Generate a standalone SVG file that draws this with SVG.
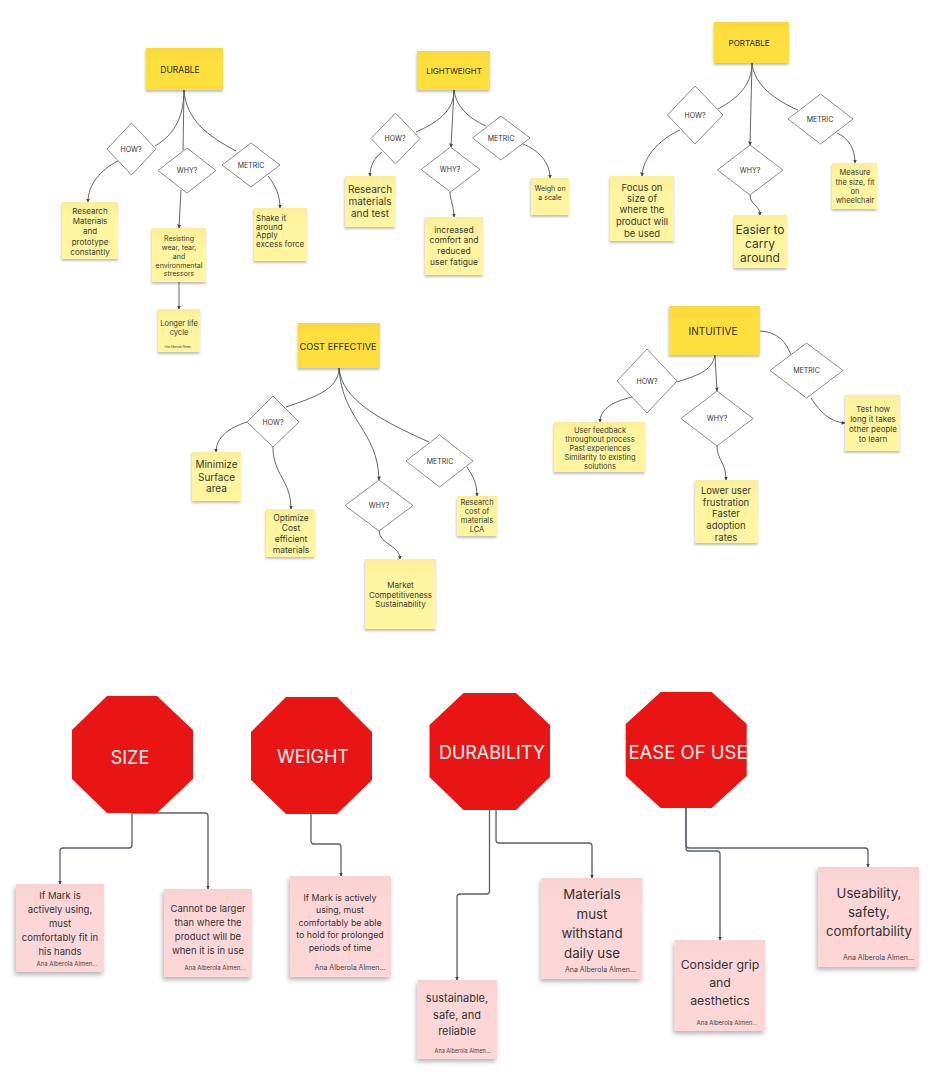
<svg xmlns="http://www.w3.org/2000/svg" width="936" height="1074" viewBox="0 0 936 1074">
<style>
text{font-family:Inter,"Noto Sans","Liberation Sans",sans-serif;fill:#3a3a32;text-anchor:middle;dominant-baseline:central}
.h{fill:url(#gh);filter:url(#sh)}
.y{fill:url(#gy);filter:url(#sh)}
.p{fill:url(#gp);filter:url(#sp)}
.d{fill:#fff;stroke:#6e6e6e;stroke-width:.8}
.o{fill:#e91515}
.ot{fill:#fdeeee;font-size:18px}
.a{fill:#444;font-size:7px}
.dt{fill:#333;font-size:7px}
.ht{fill:#2a2a20}
.pt{fill:#333}
.l{text-anchor:start}
#connectors path{fill:none;stroke:#555;stroke-width:.9;marker-end:url(#ar)}
#connectors path.n{marker-end:none}
#connectors path.e{stroke:#5a6068;stroke-width:1.3}
</style>
<defs>
<linearGradient id="gh" x1="0" y1="0" x2="0" y2="1"><stop offset="0" stop-color="#fbd83a"/><stop offset=".3" stop-color="#fedf3e"/></linearGradient>
<linearGradient id="gy" x1="0" y1="0" x2="0" y2="1"><stop offset="0" stop-color="#fbee9a"/><stop offset=".3" stop-color="#fff5a0"/></linearGradient>
<linearGradient id="gp" x1="0" y1="0" x2="0" y2="1"><stop offset="0" stop-color="#f9d2d2"/><stop offset=".3" stop-color="#fdd7d8"/></linearGradient>
<filter id="sh" x="-15%" y="-15%" width="130%" height="130%"><feDropShadow dx="-.5" dy="2" stdDeviation="1.3" flood-color="#000" flood-opacity=".25"/></filter>
<filter id="sp" x="-15%" y="-15%" width="130%" height="130%"><feDropShadow dx="-1.500" dy="3" stdDeviation="2" flood-color="#000" flood-opacity=".28"/></filter>
<marker id="ar" markerUnits="userSpaceOnUse" markerWidth="5" markerHeight="5" refX="3.5" refY="2" orient="auto"><path d="M0,0L4,2L0,4Z" fill="#444"/></marker>
</defs>
<g id="connectors">
<path class="n" d="M184,90C184,120 172,136 155,146"/>
<path class="n" d="M184,90L183,150"/>
<path class="n" d="M184,90C186,120 208,136 236,151"/>
<path d="M118,161C100,170 88,185 88,202"/>
<path d="M181,190L179,228"/>
<path d="M268,176C275,185 280,195 280,208"/>
<path d="M179,282V309"/>
<path class="n" d="M454,90C454,112 436,123 416,132"/>
<path d="M454,90L451,147"/>
<path class="n" d="M454,90C456,106 468,118 486,126"/>
<path d="M382,152C374,158 370,166 370,176"/>
<path d="M450,192C450,200 454,206 454,217"/>
<path d="M523,144C538,150 550,162 550,178"/>
<path class="n" d="M752,63C752,85 738,98 718,109"/>
<path d="M752,63L750,145"/>
<path class="n" d="M752,63C754,85 775,100 798,110"/>
<path d="M680,130C658,140 643,158 642,176"/>
<path d="M750,195C750,205 760,205 760,215"/>
<path d="M837,133C848,138 855,148 855,163"/>
<path class="n" d="M339,368C339,390 312,398 286,407"/>
<path d="M339,368C342,420 378,430 379,480"/>
<path class="n" d="M339,368C342,400 380,420 429,442"/>
<path d="M247,422C228,428 216,438 216,452"/>
<path d="M273,447C273,475 291,480 291,509"/>
<path d="M379,531C380,545 400,545 400,559"/>
<path d="M467,467C472,475 477,482 477,496"/>
<path class="n" d="M715,355C712,372 695,376 677,382"/>
<path d="M715,355L717,391"/>
<path class="n" d="M760,331C778,332 786,342 791,355"/>
<path d="M632,397C615,401 600,408 600,422"/>
<path d="M717,446C717,460 726,462 726,480"/>
<path d="M811,398C820,412 830,422 845,423"/>
<path class="e" d="M132,813V845Q132,848 129,848H63Q60,848 60,851V884"/>
<path class="e" d="M132,813H205Q208,813 208,816V889"/>
<path class="e" d="M311,814V841Q311,844 314,844H338Q341,844 341,847V876"/>
<path class="e" d="M489.500,810V891Q489.500,894 486.500,894H460Q457,894 457,897V980"/>
<path class="e" d="M496,810V840Q496,843 499,843H589Q592,843 592,846V878"/>
<path class="e" d="M686,808V845Q686,848 689,848H865Q868,848 868,851V867"/>
<path class="e" d="M686,808V848Q686,851 689,851H717Q720,851 720,854V940"/>
</g>
<g id="durable"><rect class="h" x="146" y="48" width="77" height="42"/><text class="ht" x="180" y="70" font-size="8.500">DURABLE</text></g>
<g id="durable-how"><path class="d" d="M107,149L131.500,123L156,149L131.500,175Z"/><text class="dt" x="131" y="149">HOW?</text></g>
<g id="durable-why"><path class="d" d="M158,170.500L187,148L216,170.500L187,193Z"/><text class="dt" x="187" y="170">WHY?</text></g>
<g id="durable-metric"><path class="d" d="M222,165L251,143L280,165L251,187Z"/><text class="dt" x="251" y="165">METRIC</text></g>
<g id="durable-s1"><rect class="y" x="62" y="202" width="56" height="57"/><text x="90" y="211" font-size="8">Research</text><text x="90" y="221" font-size="8">Materials</text><text x="90" y="231" font-size="8">and</text><text x="90" y="242" font-size="8">prototype</text><text x="90" y="252" font-size="8">constantly</text></g>
<g id="durable-s2"><rect class="y" x="152" y="228" width="54" height="54"/><text x="179" y="238" font-size="7">Resisting</text><text x="179" y="247" font-size="7">wear, tear,</text><text x="179" y="256" font-size="7">and</text><text x="179" y="265" font-size="7">environmental</text><text x="179" y="273" font-size="7">stressors</text></g>
<g id="durable-s3"><rect class="y" x="254" y="208" width="53" height="53"/><text class="l" x="256" y="218" font-size="8">Shake it</text><text class="l" x="256" y="227" font-size="8">around</text><text class="l" x="256" y="235" font-size="8">Apply</text><text class="l" x="256" y="244" font-size="8">excess force</text></g>
<g id="durable-s4"><rect class="y" x="158" y="309" width="42" height="43"/><text x="179" y="323" font-size="7.500">Longer life</text><text x="179" y="332" font-size="7.500">cycle</text><text x="179" y="347" font-size="2.800">Ana Alberola Almen...</text></g>

<g id="lightweight"><rect class="h" x="417" y="51" width="73" height="39"/><text class="ht" x="454" y="71" font-size="8">LIGHTWEIGHT</text></g>
<g id="lightweight-how"><path class="d" d="M371,138.500L395.500,113L420,138.500L395.500,164Z"/><text class="dt" x="395" y="138">HOW?</text></g>
<g id="lightweight-why"><path class="d" d="M421,169.500L450.500,147L480,169.500L450.500,192Z"/><text class="dt" x="450" y="169">WHY?</text></g>
<g id="lightweight-metric"><path class="d" d="M472.500,138L501,116L530,138L501,160Z"/><text class="dt" x="501" y="138">METRIC</text></g>
<g id="lightweight-s1"><rect class="y" x="345" y="176" width="50" height="51"/><text x="370" y="189" font-size="10">Research</text><text x="370" y="201" font-size="10">materials</text><text x="370" y="213" font-size="10">and test</text></g>
<g id="lightweight-s2"><rect class="y" x="425" y="217" width="58" height="58"/><text x="454" y="229.500" font-size="8.500">increased</text><text x="454" y="240" font-size="8.500">comfort and</text><text x="454" y="251" font-size="8.500">reduced</text><text x="454" y="262" font-size="8.500">user fatigue</text></g>
<g id="lightweight-s3"><rect class="y" x="531" y="178" width="38" height="37"/><text x="550" y="188" font-size="7">Weigh on</text><text x="550" y="197" font-size="7">a scale</text></g>

<g id="portable"><rect class="h" x="714" y="22" width="75" height="41"/><text class="ht" x="749" y="43" font-size="8">PORTABLE</text></g>
<g id="portable-how"><path class="d" d="M667.500,115L695,86L723,115L695,144Z"/><text class="dt" x="695" y="115">HOW?</text></g>
<g id="portable-why"><path class="d" d="M717.500,170L750,145L783,170L750,195Z"/><text class="dt" x="750" y="170">WHY?</text></g>
<g id="portable-metric"><path class="d" d="M788,119L820.500,94L853,119L820.500,144Z"/><text class="dt" x="820" y="119.500">METRIC</text></g>
<g id="portable-s1"><rect class="y" x="610" y="176" width="64" height="65"/><text x="642" y="187" font-size="9.500">Focus on</text><text x="642" y="198" font-size="9.500">size of</text><text x="642" y="209.500" font-size="9.500">where the</text><text x="642" y="221" font-size="9.500">product will</text><text x="642" y="233" font-size="9.500">be used</text></g>
<g id="portable-s2"><rect class="y" x="734" y="215" width="53" height="53"/><text x="760" y="229" font-size="12">Easier to</text><text x="760" y="243" font-size="12">carry</text><text x="760" y="257" font-size="12">around</text></g>
<g id="portable-s3"><rect class="y" x="832" y="163" width="45" height="46"/><text x="855" y="172" font-size="7.500">Measure</text><text x="855" y="182" font-size="7.500">the size, fit</text><text x="855" y="191" font-size="7.500">on</text><text x="855" y="200" font-size="7.500">wheelchair</text></g>

<g id="cost"><rect class="h" x="298" y="323" width="82" height="45"/><text class="ht" x="338" y="346" font-size="9.200">COST EFFECTIVE</text></g>
<g id="cost-how"><path class="d" d="M247,422L273,396L299,422L273,447Z"/><text class="dt" x="273" y="422">HOW?</text></g>
<g id="cost-why"><path class="d" d="M345,505.500L379,480L413,505.500L379,531Z"/><text class="dt" x="379" y="505">WHY?</text></g>
<g id="cost-metric"><path class="d" d="M406,461L439.500,435L473,461L439.500,487Z"/><text class="dt" x="440" y="461">METRIC</text></g>
<g id="cost-s1"><rect class="y" x="192" y="452" width="49" height="49"/><text x="216.500" y="464" font-size="10">Minimize</text><text x="216.500" y="477" font-size="10">Surface</text><text x="216.500" y="488" font-size="10">area</text></g>
<g id="cost-s2"><rect class="y" x="266" y="509" width="49" height="48"/><text x="291" y="517.500" font-size="8.500">Optimize</text><text x="291" y="528" font-size="8.500">Cost</text><text x="291" y="539" font-size="8.500">efficient</text><text x="291" y="550" font-size="8.500">materials</text></g>
<g id="cost-s3"><rect class="y" x="365" y="559" width="71" height="70"/><text x="400.500" y="585" font-size="8">Market</text><text x="400.500" y="595" font-size="8">Competitiveness</text><text x="400.500" y="604" font-size="8">Sustainability</text></g>
<g id="cost-s4"><rect class="y" x="457" y="496" width="40" height="40"/><text x="477" y="502" font-size="7.500">Research</text><text x="477" y="511" font-size="7.500">cost of</text><text x="477" y="520" font-size="7.500">materials</text><text x="477" y="529" font-size="7.500">LCA</text></g>

<g id="intuitive"><rect class="h" x="669" y="306" width="91" height="49"/><text class="ht" x="713" y="331" font-size="10">INTUITIVE</text></g>
<g id="intuitive-how"><path class="d" d="M617,381L647,349L677,381L647,413Z"/><text class="dt" x="647" y="381">HOW?</text></g>
<g id="intuitive-why"><path class="d" d="M681,418.500L717,391L753,418.500L717,446Z"/><text class="dt" x="717" y="418">WHY?</text></g>
<g id="intuitive-metric"><path class="d" d="M770,370.500L806.500,343L843,370.500L806.500,398Z"/><text class="dt" x="806.500" y="370.500">METRIC</text></g>
<g id="intuitive-s1"><rect class="y" x="554" y="422" width="91" height="50"/><text x="600" y="430" font-size="7.500">User feedback</text><text x="600" y="439" font-size="7.500">throughout process</text><text x="600" y="448" font-size="7.500">Past experiences</text><text x="600" y="457" font-size="7.500">Similarity to existing</text><text x="600" y="466" font-size="7.500">solutions</text></g>
<g id="intuitive-s2"><rect class="y" x="695" y="480" width="63" height="63"/><text x="726" y="490" font-size="9.500">Lower user</text><text x="726" y="502" font-size="9.500">frustration</text><text x="726" y="513" font-size="9.500">Faster</text><text x="726" y="525" font-size="9.500">adoption</text><text x="726" y="537" font-size="9.500">rates</text></g>
<g id="intuitive-s3"><rect class="y" x="845" y="395" width="55" height="56"/><text x="873" y="409" font-size="8">Test how</text><text x="873" y="419" font-size="8">long it takes</text><text x="873" y="429" font-size="8">other people</text><text x="873" y="439" font-size="8">to learn</text></g>

<g id="size"><path class="o" d="M107,696H157L193,730V779L157,813H107L72,779V730Z"/><text class="ot" x="130" y="757">SIZE</text></g>
<g id="weight"><path class="o" d="M286,697H337L372,732V780L337,814H286L251,780V732Z"/><text class="ot" x="313" y="756">WEIGHT</text></g>
<g id="durability"><path class="o" d="M463.500,693H516L550,725V777L516,810H463.500L429.500,777V725Z"/><text class="ot" x="492" y="752">DURABILITY</text></g>
<g id="ease"><path class="o" d="M660.700,692H711.700L746.700,724V776L711.700,808H660.700L625.700,776V724Z"/><text class="ot" x="688" y="752" style="font-size:18.500px">EASE OF USE</text></g>

<g id="size-s1"><rect class="p" x="16" y="884" width="88" height="88"/><text class="pt" x="60" y="895" font-size="9.500">If Mark is</text><text class="pt" x="60" y="909" font-size="9.500">actively using,</text><text class="pt" x="60" y="923" font-size="9.500">must</text><text class="pt" x="60" y="937.500" font-size="9.500">comfortably fit in</text><text class="pt" x="60" y="951" font-size="9.500">his hands</text><text class="a" x="67" y="963" style="font-size:6px">Ana Alberola Almen...</text></g>
<g id="size-s2"><rect class="p" x="164" y="889" width="88" height="88"/><text class="pt" x="208" y="908" font-size="9.500">Cannot be larger</text><text class="pt" x="208" y="922" font-size="9.500">than where the</text><text class="pt" x="208" y="936" font-size="9.500">product will be</text><text class="pt" x="208" y="950" font-size="9.500">when it is in use</text><text class="a" x="215" y="967" style="font-size:6px">Ana Alberola Almen...</text></g>
<g id="weight-s1"><rect class="p" x="290" y="876" width="101" height="101"/><text class="pt" x="340" y="897" font-size="8.800">If Mark is actively</text><text class="pt" x="340" y="909" font-size="8.800">using, must</text><text class="pt" x="340" y="922" font-size="8.800">comfortably be able</text><text class="pt" x="340" y="934" font-size="8.800">to hold for prolonged</text><text class="pt" x="340" y="947" font-size="8.800">periods of time</text><text class="a" x="350" y="967">Ana Alberola Almen...</text></g>
<g id="durability-s1"><rect class="p" x="417.700" y="980" width="79.300" height="79"/><text class="pt" x="457" y="998" font-size="11">sustainable,</text><text class="pt" x="457" y="1015" font-size="11">safe, and</text><text class="pt" x="457" y="1031" font-size="11">reliable</text><text class="a" x="462.500" y="1051" style="font-size:5.500px">Ana Alberola Almen...</text></g>
<g id="durability-s2"><rect class="p" x="541.500" y="878" width="101" height="101"/><text class="pt" x="592" y="894" font-size="13.300">Materials</text><text class="pt" x="592" y="914" font-size="13.300">must</text><text class="pt" x="592" y="933" font-size="13.300">withstand</text><text class="pt" x="592" y="953" font-size="13.300">daily use</text><text class="a" x="600.500" y="969">Ana Alberola Almen...</text></g>
<g id="ease-s1"><rect class="p" x="674.700" y="940" width="90.300" height="91"/><text class="pt" x="720" y="964" font-size="12.300">Consider grip</text><text class="pt" x="720" y="982" font-size="12.300">and</text><text class="pt" x="720" y="1000" font-size="12.300">aesthetics</text><text class="a" x="727" y="1022" style="font-size:6px">Ana Alberola Almen...</text></g>
<g id="ease-s2"><rect class="p" x="818" y="867" width="101" height="100"/><text class="pt" x="869" y="892.500" font-size="13.200">Useability,</text><text class="pt" x="869" y="912" font-size="13.200">safety,</text><text class="pt" x="869" y="931" font-size="13.200">comfortability</text><text class="a" x="878.500" y="957">Ana Alberola Almen...</text></g>
</svg>
